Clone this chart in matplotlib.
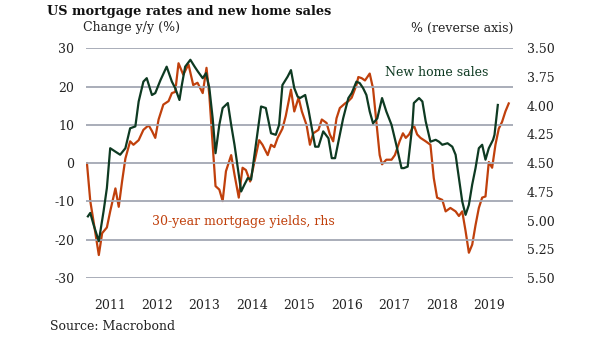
import matplotlib
matplotlib.use("Agg")
import matplotlib.pyplot as plt

# New home sales, change y/y (%), lhs -- traced vertices (decimal year, value)
sales_t = [2011.04, 2011.09, 2011.16, 2011.27, 2011.37, 2011.44, 2011.51, 2011.62, 2011.72, 2011.83,
           2011.93, 2012.04, 2012.11, 2012.21, 2012.28, 2012.39, 2012.46, 2012.57, 2012.70, 2012.81,
           2012.88, 2012.97, 2013.02, 2013.09, 2013.20, 2013.29, 2013.36, 2013.46, 2013.53, 2013.60,
           2013.67, 2013.73, 2013.81, 2013.88, 2013.99, 2014.06, 2014.13, 2014.20, 2014.27, 2014.34,
           2014.41, 2014.48, 2014.58, 2014.69, 2014.79, 2014.90, 2015.00, 2015.07, 2015.14, 2015.25,
           2015.32, 2015.39, 2015.46, 2015.51, 2015.62, 2015.69, 2015.76, 2015.83, 2015.90, 2016.00,
           2016.11, 2016.18, 2016.25, 2016.32, 2016.42, 2016.53, 2016.60, 2016.70, 2016.77, 2016.84,
           2016.91, 2016.98, 2017.05, 2017.14, 2017.24, 2017.33, 2017.44, 2017.54, 2017.65, 2017.70,
           2017.78, 2017.88, 2017.91, 2018.02, 2018.09, 2018.16, 2018.26, 2018.37, 2018.44, 2018.51,
           2018.62, 2018.72, 2018.79, 2018.86, 2018.93, 2019.00, 2019.07, 2019.14, 2019.21, 2019.28,
           2019.35, 2019.42, 2019.49, 2019.58, 2019.61, 2019.68]
sales = [-13.9, -13.0, -16.1, -20.4, -12.6, -6.5, 3.9, 3.0, 2.2, 3.9,
         9.1, 9.6, 16.1, 21.3, 22.2, 17.8, 18.3, 21.7, 25.2, 21.3,
         19.6, 16.5, 20.4, 25.2, 27.0, 25.2, 23.9, 22.2, 23.5, 19.6,
         11.7, 2.6, 10.0, 14.4, 15.7, 10.0, 4.8, -1.3, -7.4, -5.6,
         -3.9, -4.3, 4.8, 14.8, 14.4, 7.8, 7.4, 10.0, 20.4, 22.6,
         24.3, 19.6, 17.4, 17.0, 17.8, 13.9, 9.1, 4.3, 4.3, 8.3,
         6.5, 1.3, 1.3, 5.6, 11.7, 17.0, 18.3, 21.3, 20.9, 19.6,
         17.8, 13.5, 10.4, 11.7, 17.0, 13.5, 10.0, 4.8, -1.3, -1.3,
         -0.9, 10.0, 15.7, 17.0, 16.1, 10.9, 5.6, 6.1, 5.6, 4.8,
         5.2, 4.3, 2.2, -3.9, -10.0, -13.5, -10.9, -5.6, -1.3, 3.9,
         4.8, 0.9, 3.9, 6.1, 7.4, 15.2]

# 30-year mortgage yields (%), rhs reversed -- traced vertices
mort_t = [2011.02, 2011.09, 2011.16, 2011.27, 2011.34, 2011.44, 2011.51, 2011.62, 2011.69, 2011.76,
          2011.83, 2011.93, 2012.00, 2012.11, 2012.21, 2012.32, 2012.39, 2012.46, 2012.53, 2012.63,
          2012.74, 2012.81, 2012.88, 2012.95, 2013.05, 2013.16, 2013.26, 2013.35, 2013.46, 2013.54,
          2013.60, 2013.67, 2013.73, 2013.81, 2013.88, 2013.95, 2014.06, 2014.13, 2014.22, 2014.30,
          2014.37, 2014.46, 2014.55, 2014.65, 2014.72, 2014.83, 2014.90, 2014.97, 2015.04, 2015.14,
          2015.21, 2015.32, 2015.39, 2015.48, 2015.55, 2015.65, 2015.72, 2015.79, 2015.90, 2015.97,
          2016.07, 2016.14, 2016.21, 2016.28, 2016.35, 2016.46, 2016.53, 2016.60, 2016.70, 2016.74,
          2016.81, 2016.88, 2016.98, 2017.05, 2017.12, 2017.19, 2017.24, 2017.33, 2017.44, 2017.51,
          2017.61, 2017.68, 2017.74, 2017.81, 2017.91, 2017.98, 2018.05, 2018.16, 2018.26, 2018.33,
          2018.40, 2018.51, 2018.58, 2018.68, 2018.79, 2018.86, 2018.93, 2019.00, 2019.07, 2019.14,
          2019.21, 2019.28, 2019.35, 2019.42, 2019.49, 2019.56, 2019.63, 2019.70, 2019.77, 2019.84,
          2019.91]
mortgage = [4.50, 4.83, 5.01, 5.30, 5.11, 5.06, 4.92, 4.72, 4.88, 4.66,
            4.46, 4.31, 4.34, 4.30, 4.21, 4.17, 4.22, 4.28, 4.12, 3.99,
            3.96, 3.89, 3.88, 3.63, 3.73, 3.64, 3.82, 3.80, 3.89, 3.67,
            3.91, 4.34, 4.70, 4.73, 4.83, 4.57, 4.43, 4.60, 4.80, 4.54,
            4.56, 4.66, 4.49, 4.30, 4.34, 4.43, 4.34, 4.36, 4.28, 4.20,
            4.09, 3.86, 4.05, 3.93, 4.05, 4.17, 4.34, 4.24, 4.21, 4.12,
            4.15, 4.25, 4.31, 4.11, 4.02, 3.98, 3.96, 3.93, 3.82, 3.75,
            3.76, 3.78, 3.72, 3.85, 4.14, 4.43, 4.51, 4.47, 4.47, 4.43,
            4.31, 4.24, 4.28, 4.25, 4.17, 4.25, 4.28, 4.31, 4.34, 4.63,
            4.80, 4.82, 4.92, 4.89, 4.92, 4.96, 4.92, 5.09, 5.28, 5.21,
            5.04, 4.89, 4.80, 4.79, 4.49, 4.54, 4.34, 4.20, 4.14, 4.05,
            3.98]

years = [2011, 2012, 2013, 2014, 2015, 2016, 2017, 2018, 2019]
left_ticks = [-30, -20, -10, 0, 10, 20, 30]
right_ticks = [3.50, 3.75, 4.00, 4.25, 4.50, 4.75, 5.00, 5.25, 5.50]

GREEN = "#0e3a22"
RED = "#c0400c"
GRID = "#a3a7b3"
TXT = "#222222"

plt.rcParams["font.family"] = ["DejaVu Serif"]

fig = plt.figure(figsize=(6.05, 3.41), dpi=100)
ax = fig.add_axes([86 / 605, 1 - 278 / 341, (513 - 86) / 605, (278 - 48.3) / 341])
ax2 = ax.twinx()

ax.set_ylim(-30, 30)
ax.set_xlim(2011.0, 2020.0)
ax2.set_ylim(5.5, 3.5)

for y in left_ticks:
    ax.axhline(y, color=GRID, lw=1.3, zorder=0)

ax2.plot(mort_t, mortgage, color=RED, lw=1.6, zorder=2)
ax.plot(sales_t, sales, color=GREEN, lw=1.6, zorder=3)
ax.set_zorder(ax2.get_zorder() + 1)
ax.patch.set_visible(False)

for a in (ax, ax2):
    for s in a.spines.values():
        s.set_visible(False)
    a.tick_params(length=0, colors=TXT, labelsize=9)

ax.set_yticks(left_ticks)
ax.set_yticklabels([str(v) for v in left_ticks])
ax.tick_params(axis="y", pad=8.5)
ax2.set_yticks(right_ticks)
ax2.set_yticklabels([f"{v:.2f}" for v in right_ticks])
ax2.tick_params(axis="y", pad=10)

ax.set_xticks([y + 0.5 for y in years])
ax.set_xticklabels([str(y) for y in years])
ax.tick_params(axis="x", pad=15)

fig.text(47 / 605, 1 - 12 / 341, "US mortgage rates and new home sales", fontsize=9.3,
         fontweight="bold", color="#111111", va="center", ha="left")
fig.text(83 / 605, 1 - 28 / 341, "Change y/y (%)", fontsize=9, color=TXT, va="center", ha="left")
fig.text(513 / 605, 1 - 28 / 341, "% (reverse axis)", fontsize=9, color=TXT, va="center", ha="right")
fig.text(50 / 605, 1 - 327 / 341, "Source: Macrobond", fontsize=9, color=TXT, va="center", ha="left")

fig.text(385 / 605, 1 - 73 / 341, "New home sales", fontsize=9, color=GREEN, va="center", ha="left")
fig.text(152 / 605, 1 - 222 / 341, "30-year mortgage yields, rhs", fontsize=9, color=RED,
         va="center", ha="left")

fig.savefig("out.png", dpi=100)
